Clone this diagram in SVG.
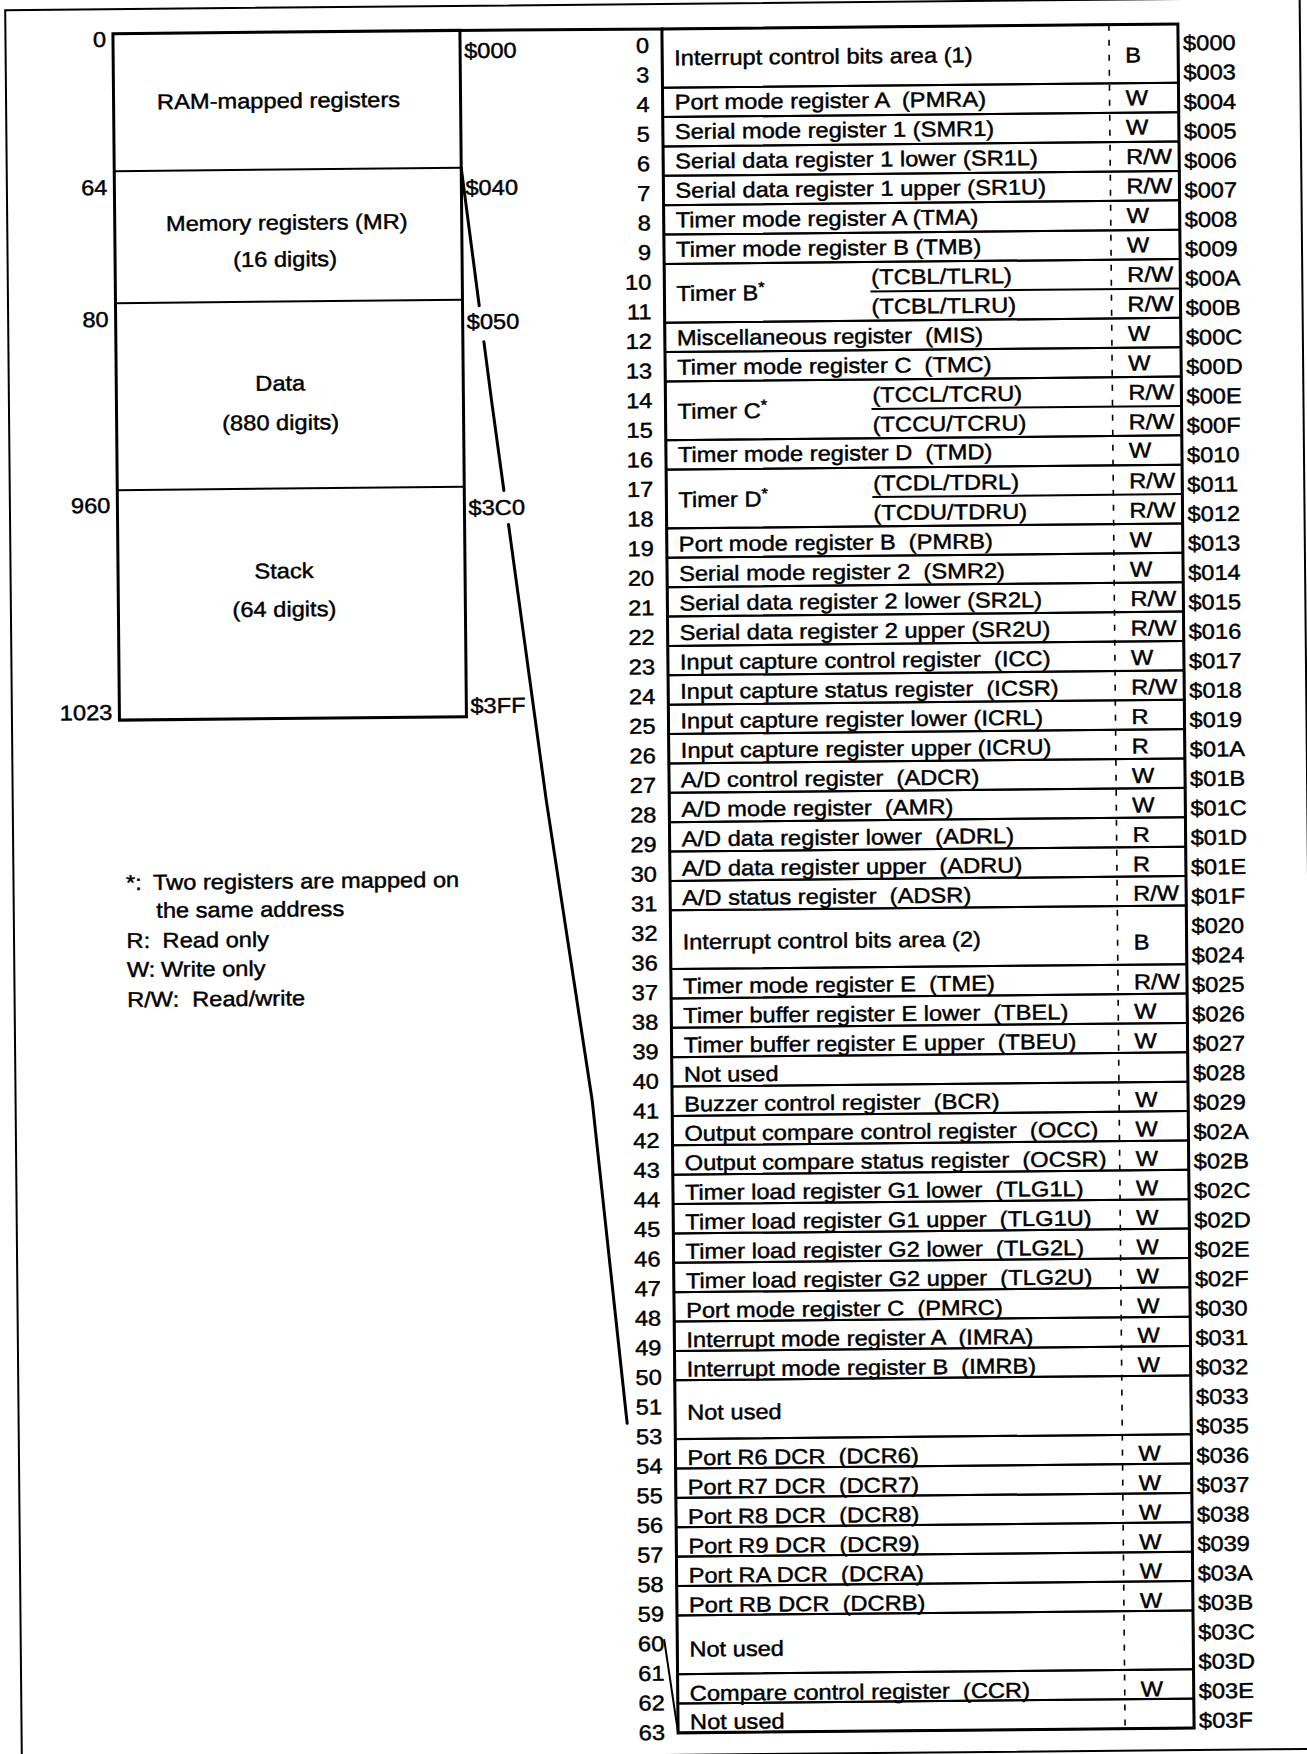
<svg xmlns="http://www.w3.org/2000/svg" width="1307" height="1754" viewBox="0 0 1307 1754">
<style>
text{font-family:"Liberation Sans",Arial,Helvetica,sans-serif;font-size:21.5px;fill:#000;stroke:#000;stroke-width:0.45px;white-space:pre}
.s{transform-box:fill-box;transform-origin:0% 50%;transform:scaleX(1.1)}
.e{transform-box:fill-box;transform-origin:100% 50%;transform:scaleX(1.1);text-anchor:end}
.m{transform-box:fill-box;transform-origin:50% 50%;transform:scaleX(1.1);text-anchor:middle}
.cell{fill:none;stroke:#000;stroke-width:2}
.bold{fill:none;stroke:#000;stroke-width:3}
.thin{fill:none;stroke:#000;stroke-width:2}
.sep{stroke:#000;stroke-width:1.6;stroke-dasharray:6 9}
.conn{fill:none;stroke:#000;stroke-width:3;stroke-linecap:round;stroke-linejoin:round}
.conn2{fill:none;stroke:#000;stroke-width:2;stroke-linecap:round}
.sup{font-size:15px}
</style>
<rect width="1307" height="1754" fill="#fff"/>
<g transform="rotate(-0.545 660 880)">
<rect id="frame" x="13.5" y="4" width="1294.5" height="1751" fill="none" stroke="#000" stroke-width="2"/>

<g id="memory-map">
 <g id="seg-ram">
  <text class="m" x="286" y="104.4">RAM-mapped registers</text>
  <text class="e" x="114" y="41.7">0</text>
  <text class="s" x="472" y="56.4">$000</text>
 </g>
 <g id="seg-mr">
  <line class="thin" x1="121" y1="166" x2="468" y2="166"/>
  <text class="m" x="293" y="226.4">Memory registers (MR)</text>
  <text class="m" x="291" y="263">(16 digits)</text>
  <text class="e" x="114" y="189.7">64</text>
  <text class="s" x="472" y="193.4">$040</text>
 </g>
 <g id="seg-data">
  <line class="thin" x1="121" y1="298" x2="468" y2="298"/>
  <text class="m" x="285" y="387">Data</text>
  <text class="m" x="285" y="426.4">(880 digits)</text>
  <text class="e" x="114" y="321.7">80</text>
  <text class="s" x="472" y="327.4">$050</text>
 </g>
 <g id="seg-stack">
  <line class="thin" x1="121" y1="485" x2="468" y2="485"/>
  <text class="m" x="287" y="574.7">Stack</text>
  <text class="m" x="287" y="613">(64 digits)</text>
  <text class="e" x="114" y="507.7">960</text>
  <text class="s" x="472" y="513.4">$3C0</text>
  <text class="e" x="114" y="714.7">1023</text>
  <text class="s" x="472" y="711.4">$3FF</text>
 </g>
 <rect class="bold" x="121" y="28.5" width="347" height="686.5"/>
</g>

<g id="legend">
 <text class="s" x="126" y="885">*:</text>
 <text class="s" x="153" y="885">Two registers are mapped on</text>
 <text class="s" x="156" y="913">the same address</text>
 <text class="s" x="126" y="943">R:</text>
 <text class="s" x="162" y="943">Read only</text>
 <text class="s" x="126" y="972">W:</text>
 <text class="s" x="160" y="972">Write only</text>
 <text class="s" x="126" y="1002">R/W:</text>
 <text class="s" x="191" y="1002">Read/write</text>
</g>

<g id="connectors">
 <line class="bold" x1="466" y1="28.6" x2="672" y2="29"/>
 <path class="conn" d="M468 166 L484.7 304 M489 340 L496 398 L507.6 489 M511.9 523 L547 799 L590 1099 L622 1423"/>
 <path class="conn2" d="M657 1640 L670 1733"/>
</g>

<g id="reg-table">
 <g id="r00"><rect class="cell" x="670" y="29" width="516" height="58.76"/><text class="s" x="682" y="65.4">Interrupt control bits area (1)</text><text class="s" x="1133" y="67">B</text></g>
 <g id="r04"><rect class="cell" x="670" y="87.76" width="516" height="29.38"/><text class="s" x="682" y="109.6">Port mode register A  (PMRA)</text><text class="s" x="1133" y="109.6">W</text></g>
 <g id="r05"><rect class="cell" x="670" y="117.14" width="516" height="29.38"/><text class="s" x="682" y="139.1">Serial mode register 1 (SMR1)</text><text class="s" x="1133" y="139.1">W</text></g>
 <g id="r06"><rect class="cell" x="670" y="146.52" width="516" height="29.38"/><text class="s" x="682" y="168.6">Serial data register 1 lower (SR1L)</text><text class="s" x="1133" y="168.6">R/W</text></g>
 <g id="r07"><rect class="cell" x="670" y="175.9" width="516" height="29.38"/><text class="s" x="682" y="198">Serial data register 1 upper (SR1U)</text><text class="s" x="1133" y="198">R/W</text></g>
 <g id="r08"><rect class="cell" x="670" y="205.28" width="516" height="29.38"/><text class="s" x="682" y="227.5">Timer mode register A (TMA)</text><text class="s" x="1133" y="227.5">W</text></g>
 <g id="r09"><rect class="cell" x="670" y="234.66" width="516" height="29.38"/><text class="s" x="682" y="257">Timer mode register B (TMB)</text><text class="s" x="1133" y="257">W</text></g>
 <g id="r10"><rect class="cell" x="670" y="264.04" width="516" height="58.76"/><line class="cell" x1="876" y1="293.42" x2="1186" y2="293.42"/><text class="s" x="682" y="301.1">Timer B<tspan class="sup" dy="-8">*</tspan></text><text class="s" x="877" y="286.4">(TCBL/TLRL)</text><text class="s" x="877" y="315.9">(TCBL/TLRU)</text><text class="s" x="1133" y="286.4">R/W</text><text class="s" x="1133" y="315.9">R/W</text></g>
 <g id="r12"><rect class="cell" x="670" y="322.8" width="516" height="29.38"/><text class="s" x="682" y="345.4">Miscellaneous register  (MIS)</text><text class="s" x="1133" y="345.4">W</text></g>
 <g id="r13"><rect class="cell" x="670" y="352.18" width="516" height="29.38"/><text class="s" x="682" y="374.9">Timer mode register C  (TMC)</text><text class="s" x="1133" y="374.9">W</text></g>
 <g id="r14"><rect class="cell" x="670" y="381.56" width="516" height="58.76"/><line class="cell" x1="876" y1="410.94" x2="1186" y2="410.94"/><text class="s" x="682" y="419">Timer C<tspan class="sup" dy="-8">*</tspan></text><text class="s" x="877" y="404.3">(TCCL/TCRU)</text><text class="s" x="877" y="433.8">(TCCU/TCRU)</text><text class="s" x="1133" y="404.3">R/W</text><text class="s" x="1133" y="433.8">R/W</text></g>
 <g id="r16"><rect class="cell" x="670" y="440.32" width="516" height="29.38"/><text class="s" x="682" y="462.3">Timer mode register D  (TMD)</text><text class="s" x="1133" y="462.3">W</text></g>
 <g id="r17"><rect class="cell" x="670" y="469.7" width="516" height="58.76"/><line class="cell" x1="876" y1="499.08" x2="1186" y2="499.08"/><text class="s" x="682" y="507.4">Timer D<tspan class="sup" dy="-8">*</tspan></text><text class="s" x="877" y="492.7">(TCDL/TDRL)</text><text class="s" x="877" y="522.2">(TCDU/TDRU)</text><text class="s" x="1133" y="492.7">R/W</text><text class="s" x="1133" y="522.2">R/W</text></g>
 <g id="r19"><rect class="cell" x="670" y="528.46" width="516" height="29.38"/><text class="s" x="682" y="551.7">Port mode register B  (PMRB)</text><text class="s" x="1133" y="551.7">W</text></g>
 <g id="r20"><rect class="cell" x="670" y="557.84" width="516" height="29.38"/><text class="s" x="682" y="581.2">Serial mode register 2  (SMR2)</text><text class="s" x="1133" y="581.2">W</text></g>
 <g id="r21"><rect class="cell" x="670" y="587.22" width="516" height="29.38"/><text class="s" x="682" y="610.6">Serial data register 2 lower (SR2L)</text><text class="s" x="1133" y="610.6">R/W</text></g>
 <g id="r22"><rect class="cell" x="670" y="616.6" width="516" height="29.38"/><text class="s" x="682" y="640.1">Serial data register 2 upper (SR2U)</text><text class="s" x="1133" y="640.1">R/W</text></g>
 <g id="r23"><rect class="cell" x="670" y="645.98" width="516" height="29.38"/><text class="s" x="682" y="669.6">Input capture control register  (ICC)</text><text class="s" x="1133" y="669.6">W</text></g>
 <g id="r24"><rect class="cell" x="670" y="675.36" width="516" height="29.38"/><text class="s" x="682" y="699">Input capture status register  (ICSR)</text><text class="s" x="1133" y="699">R/W</text></g>
 <g id="r25"><rect class="cell" x="670" y="704.74" width="516" height="29.38"/><text class="s" x="682" y="728.5">Input capture register lower (ICRL)</text><text class="s" x="1133" y="728.5">R</text></g>
 <g id="r26"><rect class="cell" x="670" y="734.12" width="516" height="29.38"/><text class="s" x="682" y="758">Input capture register upper (ICRU)</text><text class="s" x="1133" y="758">R</text></g>
 <g id="r27"><rect class="cell" x="670" y="763.5" width="516" height="29.38"/><text class="s" x="682" y="787.4">A/D control register  (ADCR)</text><text class="s" x="1133" y="787.4">W</text></g>
 <g id="r28"><rect class="cell" x="670" y="792.88" width="516" height="29.38"/><text class="s" x="682" y="816.9">A/D mode register  (AMR)</text><text class="s" x="1133" y="816.9">W</text></g>
 <g id="r29"><rect class="cell" x="670" y="822.26" width="516" height="29.38"/><text class="s" x="682" y="846.4">A/D data register lower  (ADRL)</text><text class="s" x="1133" y="846.4">R</text></g>
 <g id="r30"><rect class="cell" x="670" y="851.64" width="516" height="29.38"/><text class="s" x="682" y="875.9">A/D data register upper  (ADRU)</text><text class="s" x="1133" y="875.9">R</text></g>
 <g id="r31"><rect class="cell" x="670" y="881.02" width="516" height="29.38"/><text class="s" x="682" y="905.3">A/D status register  (ADSR)</text><text class="s" x="1133" y="905.3">R/W</text></g>
 <g id="r32"><rect class="cell" x="670" y="910.4" width="516" height="58.76"/><text class="s" x="682" y="949.5">Interrupt control bits area (2)</text><text class="s" x="1133" y="954">B</text></g>
 <g id="r37"><rect class="cell" x="670" y="969.16" width="516" height="29.38"/><text class="s" x="682" y="993.7">Timer mode register E  (TME)</text><text class="s" x="1133" y="993.7">R/W</text></g>
 <g id="r38"><rect class="cell" x="670" y="998.54" width="516" height="29.38"/><text class="s" x="682" y="1023.2">Timer buffer register E lower  (TBEL)</text><text class="s" x="1133" y="1023.2">W</text></g>
 <g id="r39"><rect class="cell" x="670" y="1027.92" width="516" height="29.38"/><text class="s" x="682" y="1052.7">Timer buffer register E upper  (TBEU)</text><text class="s" x="1133" y="1052.7">W</text></g>
 <g id="r40"><rect class="cell" x="670" y="1057.3" width="516" height="29.38"/><text class="s" x="682" y="1082.1">Not used</text></g>
 <g id="r41"><rect class="cell" x="670" y="1086.68" width="516" height="29.38"/><text class="s" x="682" y="1111.6">Buzzer control register  (BCR)</text><text class="s" x="1133" y="1111.6">W</text></g>
 <g id="r42"><rect class="cell" x="670" y="1116.06" width="516" height="29.38"/><text class="s" x="682" y="1141.1">Output compare control register  (OCC)</text><text class="s" x="1133" y="1141.1">W</text></g>
 <g id="r43"><rect class="cell" x="670" y="1145.44" width="516" height="29.38"/><text class="s" x="682" y="1170.5">Output compare status register  (OCSR)</text><text class="s" x="1133" y="1170.5">W</text></g>
 <g id="r44"><rect class="cell" x="670" y="1174.82" width="516" height="29.38"/><text class="s" x="682" y="1200">Timer load register G1 lower  (TLG1L)</text><text class="s" x="1133" y="1200">W</text></g>
 <g id="r45"><rect class="cell" x="670" y="1204.2" width="516" height="29.38"/><text class="s" x="682" y="1229.5">Timer load register G1 upper  (TLG1U)</text><text class="s" x="1133" y="1229.5">W</text></g>
 <g id="r46"><rect class="cell" x="670" y="1233.58" width="516" height="29.38"/><text class="s" x="682" y="1259">Timer load register G2 lower  (TLG2L)</text><text class="s" x="1133" y="1259">W</text></g>
 <g id="r47"><rect class="cell" x="670" y="1262.96" width="516" height="29.38"/><text class="s" x="682" y="1288.4">Timer load register G2 upper  (TLG2U)</text><text class="s" x="1133" y="1288.4">W</text></g>
 <g id="r48"><rect class="cell" x="670" y="1292.34" width="516" height="29.38"/><text class="s" x="682" y="1317.9">Port mode register C  (PMRC)</text><text class="s" x="1133" y="1317.9">W</text></g>
 <g id="r49"><rect class="cell" x="670" y="1321.72" width="516" height="29.38"/><text class="s" x="682" y="1347.4">Interrupt mode register A  (IMRA)</text><text class="s" x="1133" y="1347.4">W</text></g>
 <g id="r50"><rect class="cell" x="670" y="1351.1" width="516" height="29.38"/><text class="s" x="682" y="1376.8">Interrupt mode register B  (IMRB)</text><text class="s" x="1133" y="1376.8">W</text></g>
 <g id="r51"><rect class="cell" x="670" y="1380.48" width="516" height="58.76"/><text class="s" x="682" y="1420">Not used</text></g>
 <g id="r54"><rect class="cell" x="670" y="1439.24" width="516" height="29.38"/><text class="s" x="682" y="1465.3">Port R6 DCR  (DCR6)</text><text class="s" x="1133" y="1465.3">W</text></g>
 <g id="r55"><rect class="cell" x="670" y="1468.62" width="516" height="29.38"/><text class="s" x="682" y="1494.7">Port R7 DCR  (DCR7)</text><text class="s" x="1133" y="1494.7">W</text></g>
 <g id="r56"><rect class="cell" x="670" y="1498" width="516" height="29.38"/><text class="s" x="682" y="1524.2">Port R8 DCR  (DCR8)</text><text class="s" x="1133" y="1524.2">W</text></g>
 <g id="r57"><rect class="cell" x="670" y="1527.38" width="516" height="29.38"/><text class="s" x="682" y="1553.7">Port R9 DCR  (DCR9)</text><text class="s" x="1133" y="1553.7">W</text></g>
 <g id="r58"><rect class="cell" x="670" y="1556.76" width="516" height="29.38"/><text class="s" x="682" y="1583.1">Port RA DCR  (DCRA)</text><text class="s" x="1133" y="1583.1">W</text></g>
 <g id="r59"><rect class="cell" x="670" y="1586.14" width="516" height="29.38"/><text class="s" x="682" y="1612.6">Port RB DCR  (DCRB)</text><text class="s" x="1133" y="1612.6">W</text></g>
 <g id="r60"><rect class="cell" x="670" y="1615.52" width="516" height="58.76"/><text class="s" x="682" y="1656.8">Not used</text></g>
 <g id="r62"><rect class="cell" x="670" y="1674.28" width="516" height="29.38"/><text class="s" x="682" y="1701">Compare control register  (CCR)</text><text class="s" x="1133" y="1701">W</text></g>
 <g id="r63"><rect class="cell" x="670" y="1703.66" width="516" height="29.38"/><text class="s" x="682" y="1729.5">Not used</text></g>
 <line class="sep" x1="1117" y1="29" x2="1117" y2="1733"/>
 <rect class="bold" x="670" y="29" width="516" height="1704"/>
</g>

<g id="row-numbers">
 <text class="e" x="657" y="52.7">0</text>
 <text class="e" x="657" y="82.3">3</text>
 <text class="e" x="657" y="111.9">4</text>
 <text class="e" x="657" y="141.5">5</text>
 <text class="e" x="657" y="171.1">6</text>
 <text class="e" x="657" y="200.7">7</text>
 <text class="e" x="657" y="230.3">8</text>
 <text class="e" x="657" y="259.9">9</text>
 <text class="e" x="657" y="289.5">10</text>
 <text class="e" x="657" y="319.1">11</text>
 <text class="e" x="657" y="348.7">12</text>
 <text class="e" x="657" y="378.3">13</text>
 <text class="e" x="657" y="407.9">14</text>
 <text class="e" x="657" y="437.5">15</text>
 <text class="e" x="657" y="467.1">16</text>
 <text class="e" x="657" y="496.7">17</text>
 <text class="e" x="657" y="526.3">18</text>
 <text class="e" x="657" y="555.9">19</text>
 <text class="e" x="657" y="585.5">20</text>
 <text class="e" x="657" y="615.1">21</text>
 <text class="e" x="657" y="644.7">22</text>
 <text class="e" x="657" y="674.3">23</text>
 <text class="e" x="657" y="703.9">24</text>
 <text class="e" x="657" y="733.5">25</text>
 <text class="e" x="657" y="763.1">26</text>
 <text class="e" x="657" y="792.7">27</text>
 <text class="e" x="657" y="822.3">28</text>
 <text class="e" x="657" y="851.9">29</text>
 <text class="e" x="657" y="881.5">30</text>
 <text class="e" x="657" y="911.1">31</text>
 <text class="e" x="657" y="940.7">32</text>
 <text class="e" x="657" y="970.3">36</text>
 <text class="e" x="657" y="999.9">37</text>
 <text class="e" x="657" y="1029.5">38</text>
 <text class="e" x="657" y="1059.1">39</text>
 <text class="e" x="657" y="1088.7">40</text>
 <text class="e" x="657" y="1118.3">41</text>
 <text class="e" x="657" y="1147.9">42</text>
 <text class="e" x="657" y="1177.5">43</text>
 <text class="e" x="657" y="1207.1">44</text>
 <text class="e" x="657" y="1236.7">45</text>
 <text class="e" x="657" y="1266.3">46</text>
 <text class="e" x="657" y="1295.9">47</text>
 <text class="e" x="657" y="1325.5">48</text>
 <text class="e" x="657" y="1355.1">49</text>
 <text class="e" x="657" y="1384.7">50</text>
 <text class="e" x="657" y="1414.3">51</text>
 <text class="e" x="657" y="1443.9">53</text>
 <text class="e" x="657" y="1473.5">54</text>
 <text class="e" x="657" y="1503.1">55</text>
 <text class="e" x="657" y="1532.7">56</text>
 <text class="e" x="657" y="1562.3">57</text>
 <text class="e" x="657" y="1591.9">58</text>
 <text class="e" x="657" y="1621.5">59</text>
 <text class="e" x="657" y="1651.1">60</text>
 <text class="e" x="657" y="1680.7">61</text>
 <text class="e" x="657" y="1710.3">62</text>
 <text class="e" x="657" y="1739.9">63</text>
</g>

<g id="addresses">
 <text class="s" x="1191" y="55.5">$000</text>
 <text class="s" x="1191" y="84.9">$003</text>
 <text class="s" x="1191" y="114.4">$004</text>
 <text class="s" x="1191" y="143.8">$005</text>
 <text class="s" x="1191" y="173.2">$006</text>
 <text class="s" x="1191" y="202.7">$007</text>
 <text class="s" x="1191" y="232.1">$008</text>
 <text class="s" x="1191" y="261.5">$009</text>
 <text class="s" x="1191" y="291">$00A</text>
 <text class="s" x="1191" y="320.4">$00B</text>
 <text class="s" x="1191" y="349.8">$00C</text>
 <text class="s" x="1191" y="379.2">$00D</text>
 <text class="s" x="1191" y="408.7">$00E</text>
 <text class="s" x="1191" y="438.1">$00F</text>
 <text class="s" x="1191" y="467.5">$010</text>
 <text class="s" x="1191" y="497">$011</text>
 <text class="s" x="1191" y="526.4">$012</text>
 <text class="s" x="1191" y="555.8">$013</text>
 <text class="s" x="1191" y="585.2">$014</text>
 <text class="s" x="1191" y="614.7">$015</text>
 <text class="s" x="1191" y="644.1">$016</text>
 <text class="s" x="1191" y="673.5">$017</text>
 <text class="s" x="1191" y="703">$018</text>
 <text class="s" x="1191" y="732.4">$019</text>
 <text class="s" x="1191" y="761.8">$01A</text>
 <text class="s" x="1191" y="791.2">$01B</text>
 <text class="s" x="1191" y="820.7">$01C</text>
 <text class="s" x="1191" y="850.1">$01D</text>
 <text class="s" x="1191" y="879.5">$01E</text>
 <text class="s" x="1191" y="909">$01F</text>
 <text class="s" x="1191" y="938.4">$020</text>
 <text class="s" x="1191" y="967.8">$024</text>
 <text class="s" x="1191" y="997.3">$025</text>
 <text class="s" x="1191" y="1026.7">$026</text>
 <text class="s" x="1191" y="1056.1">$027</text>
 <text class="s" x="1191" y="1085.5">$028</text>
 <text class="s" x="1191" y="1115">$029</text>
 <text class="s" x="1191" y="1144.4">$02A</text>
 <text class="s" x="1191" y="1173.8">$02B</text>
 <text class="s" x="1191" y="1203.3">$02C</text>
 <text class="s" x="1191" y="1232.7">$02D</text>
 <text class="s" x="1191" y="1262.1">$02E</text>
 <text class="s" x="1191" y="1291.5">$02F</text>
 <text class="s" x="1191" y="1321">$030</text>
 <text class="s" x="1191" y="1350.4">$031</text>
 <text class="s" x="1191" y="1379.8">$032</text>
 <text class="s" x="1191" y="1409.3">$033</text>
 <text class="s" x="1191" y="1438.7">$035</text>
 <text class="s" x="1191" y="1468.1">$036</text>
 <text class="s" x="1191" y="1497.5">$037</text>
 <text class="s" x="1191" y="1527">$038</text>
 <text class="s" x="1191" y="1556.4">$039</text>
 <text class="s" x="1191" y="1585.8">$03A</text>
 <text class="s" x="1191" y="1615.3">$03B</text>
 <text class="s" x="1191" y="1644.7">$03C</text>
 <text class="s" x="1191" y="1674.1">$03D</text>
 <text class="s" x="1191" y="1703.5">$03E</text>
 <text class="s" x="1191" y="1733">$03F</text>
</g>
</g>
</svg>
